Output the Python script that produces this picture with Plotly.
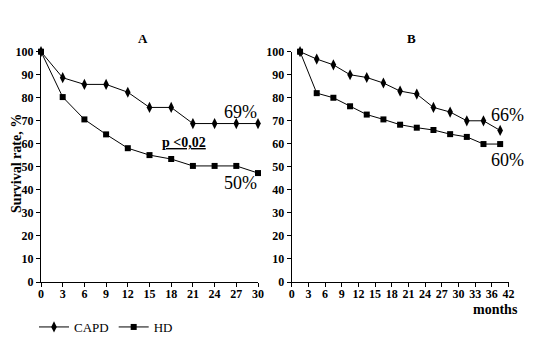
import plotly.graph_objects as go

# Panel A
a_months = [0, 3, 6, 9, 12, 15, 18, 21, 24, 27, 30]
a_capd = [100, 88.7, 85.8, 85.8, 82.4, 75.8, 75.8, 68.8, 68.8, 68.8, 68.8]
a_hd = [100, 80.3, 70.6, 64.1, 58.1, 55.1, 53.4, 50.4, 50.4, 50.4, 47.3]

# Panel B
b_months = [1.5, 4.5, 7.5, 10.5, 13.5, 16.5, 19.5, 22.5, 25.5, 28.5, 31.5, 34.5, 37.5]
b_capd = [100, 96.8, 94.3, 90.0, 88.8, 86.4, 82.9, 81.6, 75.8, 73.8, 70.0, 70.0, 65.8]
b_hd = [100, 82.0, 80.0, 76.3, 72.7, 70.6, 68.3, 67.0, 66.0, 64.2, 63.0, 59.9, 59.9]

a_ticks = [0, 3, 6, 9, 12, 15, 18, 21, 24, 27, 30]
b_tickvals = [0, 3, 6, 9, 12, 15, 18, 21, 24, 27, 30, 33, 36, 39]
b_ticktext = ["0", "3", "6", "9", "12", "15", "18", "21", "24", "27", "30", "33", "36", "42"]

SERIF = "Liberation Serif, Times New Roman, serif"
OFF = 8                      # default page body margin
W, H = 538 - OFF, 359 - OFF  # figure size so that it fits the window


def px(x):
    return (x - OFF) / W


def py(y):
    return 1 - (y - OFF) / H


fig = go.Figure()

capd_marker = dict(symbol="diamond-tall", size=8, color="black")
hd_marker = dict(symbol="square", size=6, color="black")
line = dict(color="black", width=1)

fig.add_trace(go.Scatter(x=a_months, y=a_capd, mode="lines+markers", name="CAPD",
                         marker=capd_marker, line=line, xaxis="x", yaxis="y",
                         cliponaxis=False, legendgroup="capd"))
fig.add_trace(go.Scatter(x=a_months, y=a_hd, mode="lines+markers", name="HD",
                         marker=hd_marker, line=line, xaxis="x", yaxis="y",
                         cliponaxis=False, legendgroup="hd"))
fig.add_trace(go.Scatter(x=b_months, y=b_capd, mode="lines+markers", name="CAPD",
                         marker=capd_marker, line=line, xaxis="x2", yaxis="y2",
                         cliponaxis=False, showlegend=False, legendgroup="capd"))
fig.add_trace(go.Scatter(x=b_months, y=b_hd, mode="lines+markers", name="HD",
                         marker=hd_marker, line=line, xaxis="x2", yaxis="y2",
                         cliponaxis=False, showlegend=False, legendgroup="hd"))

tickfont = dict(family=SERIF, size=12, color="black", weight="bold")
ax_common = dict(showgrid=False, zeroline=False, showline=True, linecolor="black",
                 linewidth=1, ticks="outside", ticklen=4, tickcolor="black",
                 tickwidth=1, tickfont=tickfont, automargin=False)

ydom = [py(282), py(51.7)]

fig.update_layout(
    template="none",
    width=W, height=H,
    margin=dict(l=0, r=0, t=0, b=0, pad=0),
    paper_bgcolor="white", plot_bgcolor="white",
    xaxis=dict(domain=[px(41), px(258)], range=[0, 30], tickvals=a_ticks,
               anchor="y", ticklabelstandoff=-3, **ax_common),
    yaxis=dict(domain=ydom, range=[0, 100], dtick=10, anchor="x", **ax_common),
    xaxis2=dict(domain=[px(291.7), px(508.5)], range=[0, 39], tickvals=b_tickvals,
                ticktext=b_ticktext, anchor="y2", ticklabelstandoff=-3, **ax_common),
    yaxis2=dict(domain=ydom, range=[0, 100], dtick=10, anchor="x2", **ax_common),
    showlegend=True,
    legend=dict(orientation="h", x=px(34), y=py(327), xanchor="left", yanchor="middle",
                font=dict(family=SERIF, size=13, color="black"),
                bgcolor="rgba(0,0,0,0)", itemwidth=30, tracegroupgap=0),
)


def txt(x, y, s, size, bold=False, **kw):
    fig.add_annotation(x=px(x), y=py(y), xref="paper", yref="paper", text=s,
                       showarrow=False, xanchor="center", yanchor="middle",
                       font=dict(family=SERIF, size=size, color="black",
                                 weight="bold" if bold else "normal"), **kw)


txt(143, 38, "A", 13, bold=True)
txt(411, 38, "B", 13, bold=True)
txt(16, 164, "Survival rate, %", 14, bold=True, textangle=-90)
txt(240, 112, "69%", 18)
txt(240, 183, "50%", 18)
txt(184, 142, "<u>p &lt;0,02</u>", 14, bold=True)
txt(507, 115, "66%", 18)
txt(507, 160, "60%", 18)
txt(495, 309, "months", 14, bold=True)

fig.write_html("out.html")
